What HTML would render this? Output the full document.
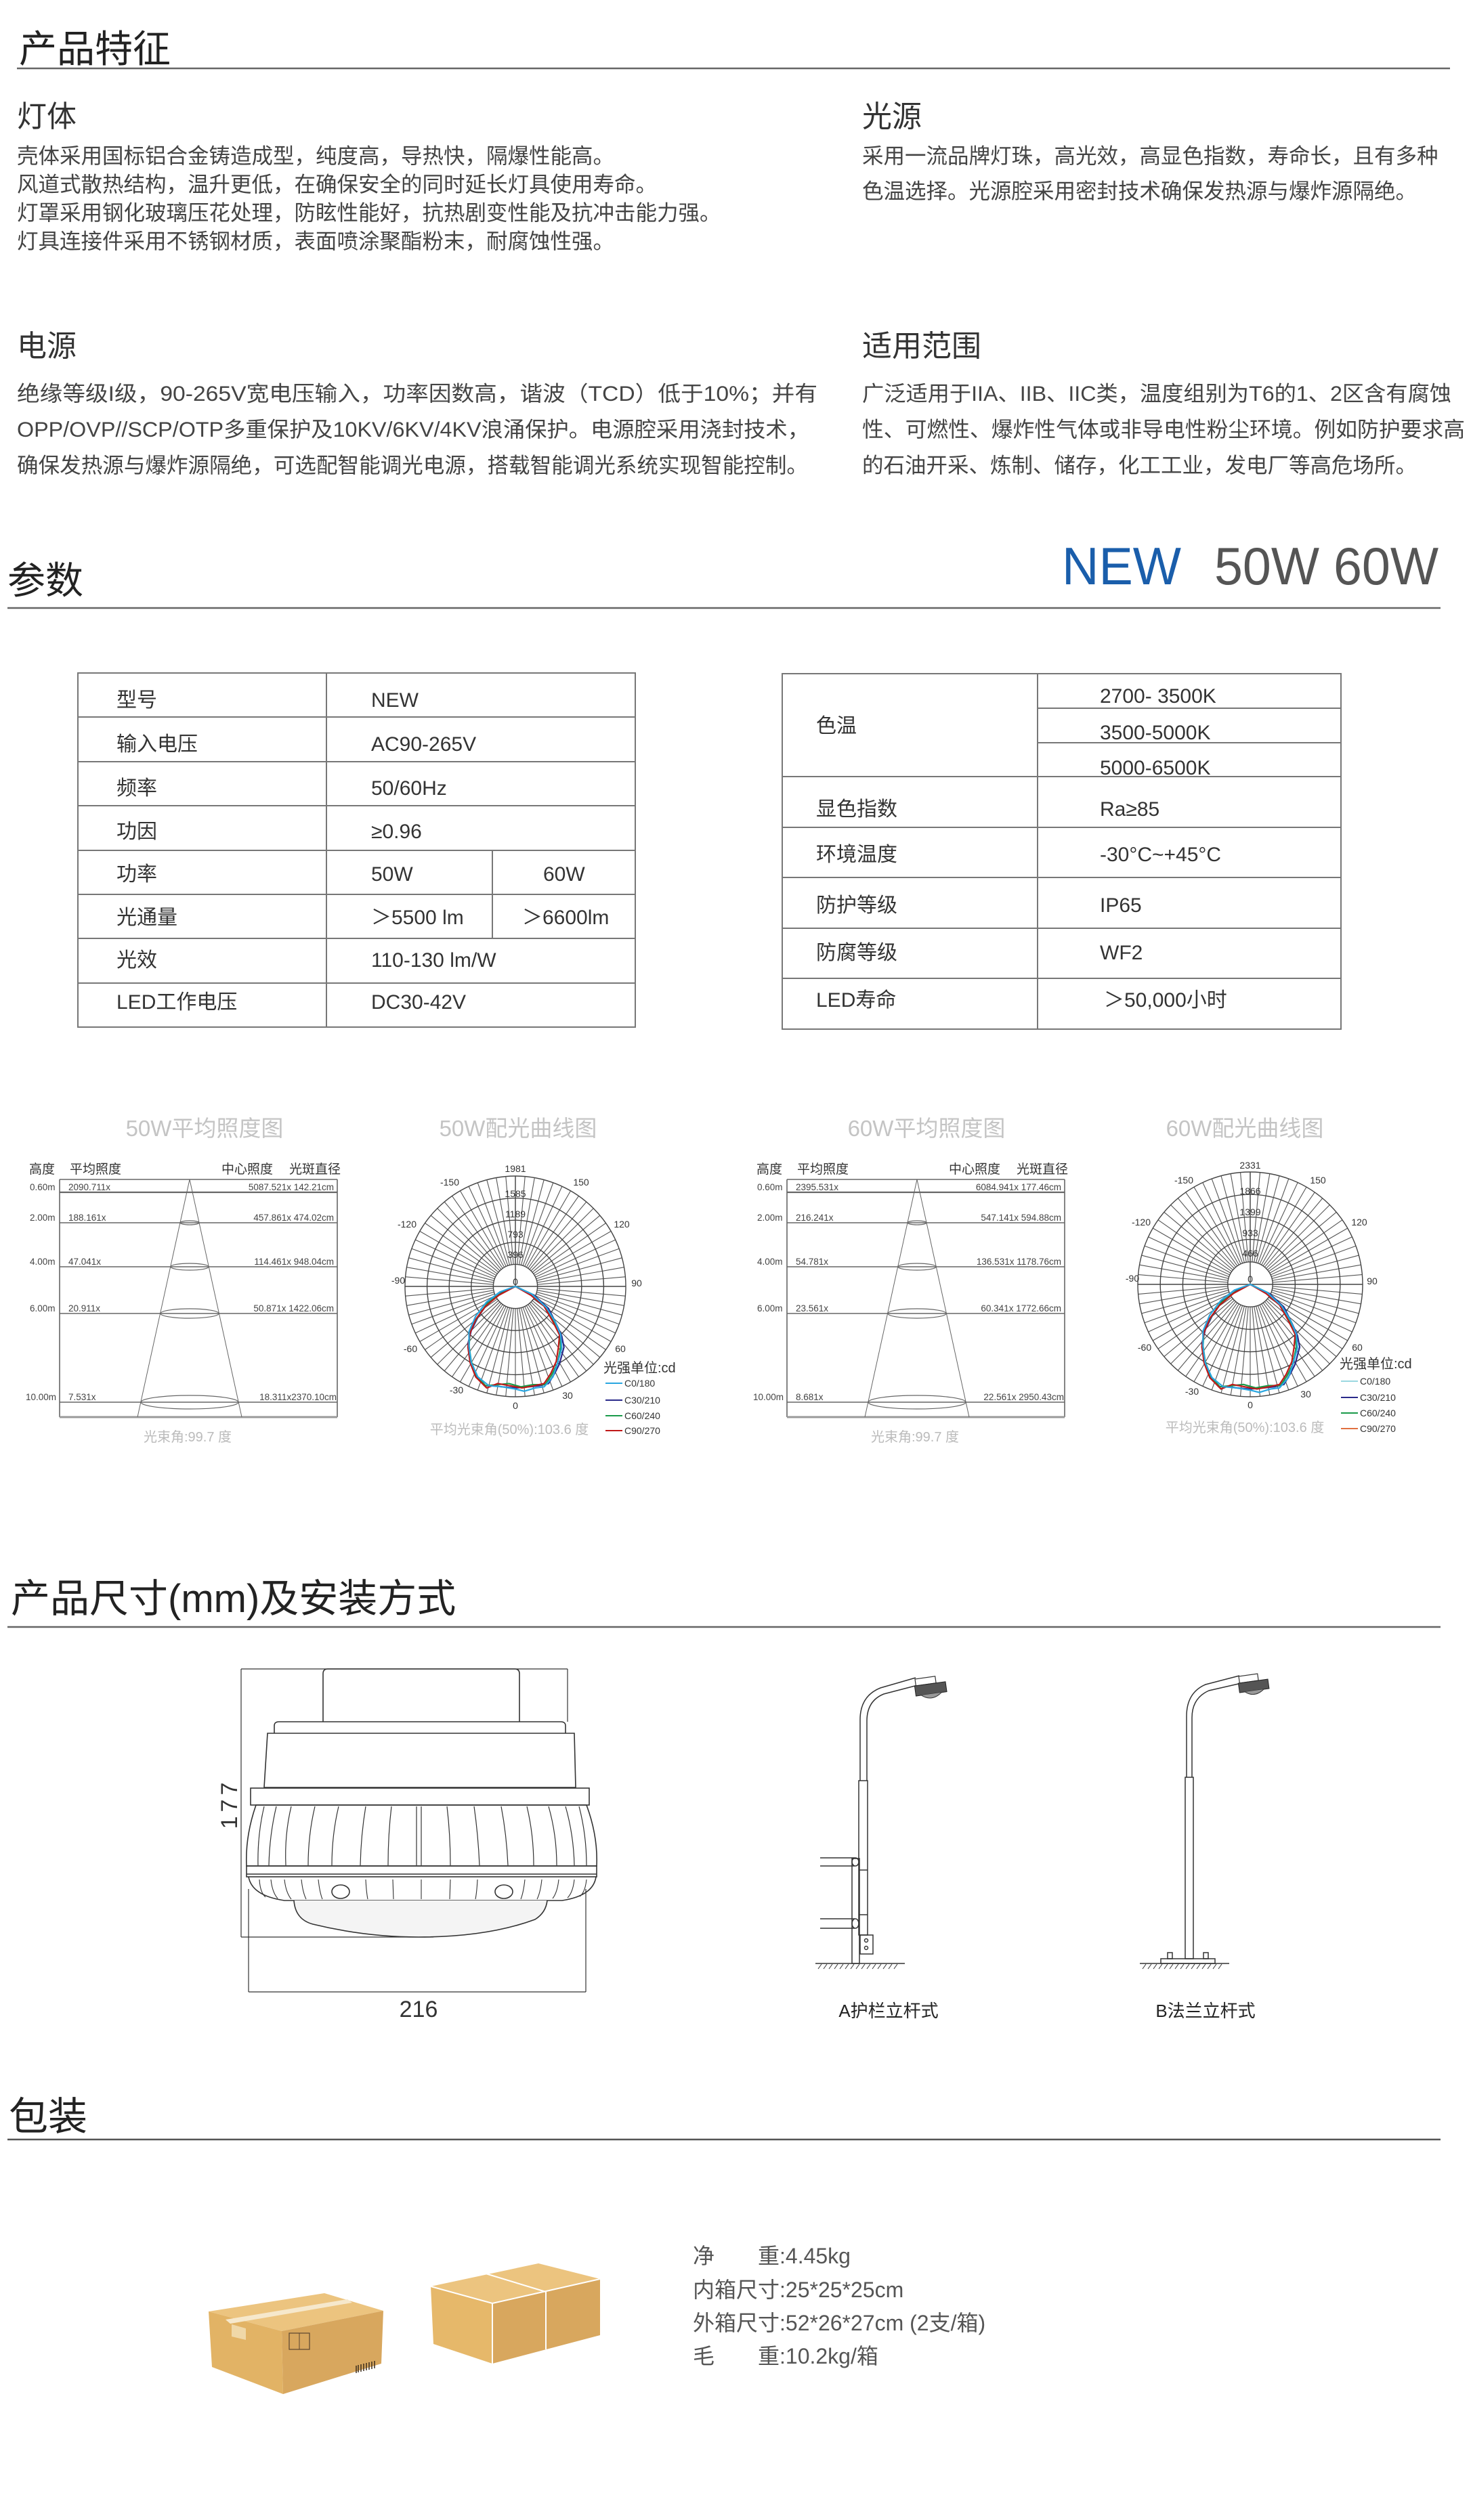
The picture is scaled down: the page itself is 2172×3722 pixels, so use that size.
<!DOCTYPE html>
<html><head><meta charset="utf-8">
<style>
html,body{margin:0;padding:0;background:#fff;}
body{width:2172px;height:3722px;position:relative;overflow:hidden;}
svg{position:absolute;left:0;top:0;}
text{font-family:"Liberation Sans","Noto Sans CJK SC",sans-serif;}
.m{font-family:"Liberation Mono","DejaVu Sans Mono",monospace;}
</style></head>
<body>
<svg width="2172" height="3722" viewBox="0 0 2172 3722" xmlns="http://www.w3.org/2000/svg" xmlns:xlink="http://www.w3.org/1999/xlink">
<defs>
<g id="sp" stroke="#555" stroke-width="1.1">
<line x1="0.2" y1="0" x2="1" y2="0" vector-effect="non-scaling-stroke"/>
<line x1="0.19924" y1="0.01744" x2="0.9962" y2="0.0872" vector-effect="non-scaling-stroke"/>
<line x1="0.19696" y1="0.03472" x2="0.9848" y2="0.1736" vector-effect="non-scaling-stroke"/>
<line x1="0.19318" y1="0.05176" x2="0.9659" y2="0.2588" vector-effect="non-scaling-stroke"/>
<line x1="0.18794" y1="0.0684" x2="0.9397" y2="0.342" vector-effect="non-scaling-stroke"/>
<line x1="0.18126" y1="0.08452" x2="0.9063" y2="0.4226" vector-effect="non-scaling-stroke"/>
<line x1="0.1732" y1="0.1" x2="0.866" y2="0.5" vector-effect="non-scaling-stroke"/>
<line x1="0.16384" y1="0.11472" x2="0.8192" y2="0.5736" vector-effect="non-scaling-stroke"/>
<line x1="0.1532" y1="0.12856" x2="0.766" y2="0.6428" vector-effect="non-scaling-stroke"/>
</g>
<g id="polar">
<use xlink:href="#sp"/><use xlink:href="#sp" transform="rotate(45)"/><use xlink:href="#sp" transform="rotate(90)"/><use xlink:href="#sp" transform="rotate(135)"/>
<use xlink:href="#sp" transform="rotate(180)"/><use xlink:href="#sp" transform="rotate(225)"/><use xlink:href="#sp" transform="rotate(270)"/><use xlink:href="#sp" transform="rotate(315)"/>
<g fill="none" stroke="#444" stroke-width="1.4">
<circle r="0.2" vector-effect="non-scaling-stroke"/><circle r="0.4" vector-effect="non-scaling-stroke"/><circle r="0.6" vector-effect="non-scaling-stroke"/><circle r="0.8" vector-effect="non-scaling-stroke"/><circle r="1" vector-effect="non-scaling-stroke"/>
<line x1="-1" y1="0" x2="1" y2="0" vector-effect="non-scaling-stroke"/>
<line x1="0" y1="0" x2="0" y2="-1" vector-effect="non-scaling-stroke"/>
</g>
</g>
<g id="curves" fill="none" stroke-width="2.2" stroke-linejoin="round">
<path stroke="#2a2a8a" vector-effect="non-scaling-stroke" d="M0,0 L-0.13,0.06 L-0.25,0.15 L-0.34,0.28 L-0.40,0.40 L-0.43,0.52 L-0.41,0.67 L-0.36,0.80 L-0.28,0.90 L-0.20,0.90 L-0.12,0.91 L0,0.92 L0.12,0.91 L0.22,0.90 L0.30,0.88 L0.36,0.78 L0.40,0.70 L0.44,0.55 L0.42,0.45 L0.37,0.34 L0.30,0.20 L0.17,0.08 Z"/>
<path stroke="#1a9a4a" vector-effect="non-scaling-stroke" d="M0,0 L-0.14,0.07 L-0.26,0.16 L-0.35,0.29 L-0.41,0.40 L-0.42,0.54 L-0.40,0.68 L-0.35,0.81 L-0.27,0.90 L-0.16,0.89 L-0.06,0.88 L0.05,0.91 L0.16,0.89 L0.27,0.89 L0.33,0.80 L0.38,0.70 L0.41,0.55 L0.40,0.44 L0.35,0.32 L0.28,0.19 L0.15,0.07 Z"/>
<path stroke="#c01818" vector-effect="non-scaling-stroke" d="M0,0 L-0.15,0.08 L-0.27,0.18 L-0.36,0.30 L-0.41,0.42 L-0.43,0.55 L-0.41,0.69 L-0.36,0.82 L-0.26,0.92 L-0.16,0.88 L-0.05,0.90 L0.06,0.92 L0.17,0.90 L0.26,0.88 L0.32,0.79 L0.37,0.68 L0.39,0.55 L0.40,0.44 L0.34,0.32 L0.26,0.18 L0.14,0.08 Z"/>
<path stroke="#29a6e0" vector-effect="non-scaling-stroke" d="M0,0 L-0.14,0.05 L-0.26,0.14 L-0.36,0.27 L-0.42,0.41 L-0.42,0.55 L-0.40,0.69 L-0.34,0.82 L-0.24,0.90 L-0.12,0.91 L0,0.93 L0.08,0.95 L0.18,0.92 L0.26,0.91 L0.34,0.82 L0.38,0.70 L0.42,0.56 L0.41,0.44 L0.36,0.32 L0.28,0.19 L0.15,0.07 Z"/>
</g>
</defs>

<!-- ===== Section 1 ===== -->
<text x="28" y="92" font-size="56" fill="#222">产品特征</text>
<line x1="25" y1="101" x2="2141" y2="101" stroke="#666" stroke-width="2.5"/>
<text x="25" y="187" font-size="44" fill="#333">灯体</text>
<text x="1273" y="187" font-size="44" fill="#333">光源</text>
<g font-size="31.5" fill="#444">
<text x="25" y="241">壳体采用国标铝合金铸造成型，纯度高，导热快，隔爆性能高。</text>
<text x="25" y="283">风道式散热结构，温升更低，在确保安全的同时延长灯具使用寿命。</text>
<text x="25" y="325">灯罩采用钢化玻璃压花处理，防眩性能好，抗热剧变性能及抗冲击能力强。</text>
<text x="25" y="367">灯具连接件采用不锈钢材质，表面喷涂聚酯粉末，耐腐蚀性强。</text>
<text x="1273" y="241">采用一流品牌灯珠，高光效，高显色指数，寿命长，且有多种</text>
<text x="1273" y="293">色温选择。光源腔采用密封技术确保发热源与爆炸源隔绝。</text>
</g>
<text x="25" y="526" font-size="44" fill="#333">电源</text>
<text x="1273" y="526" font-size="44" fill="#333">适用范围</text>
<g font-size="31.5" fill="#444">
<text x="25" y="592" textLength="1182" lengthAdjust="spacingAndGlyphs">绝缘等级I级，90-265V宽电压输入，功率因数高，谐波（TCD）低于10%；并有</text>
<text x="25" y="645" textLength="1170" lengthAdjust="spacingAndGlyphs">OPP/OVP//SCP/OTP多重保护及10KV/6KV/4KV浪涌保护。电源腔采用浇封技术，</text>
<text x="25" y="698" textLength="1168" lengthAdjust="spacingAndGlyphs">确保发热源与爆炸源隔绝，可选配智能调光电源，搭载智能调光系统实现智能控制。</text>
<text x="1273" y="592" textLength="870" lengthAdjust="spacingAndGlyphs">广泛适用于IIA、IIB、IIC类，温度组别为T6的1、2区含有腐蚀</text>
<text x="1273" y="645" textLength="890" lengthAdjust="spacingAndGlyphs">性、可燃性、爆炸性气体或非导电性粉尘环境。例如防护要求高</text>
<text x="1273" y="698">的石油开采、炼制、储存，化工工业，发电厂等高危场所。</text>
</g>

<!-- ===== Section 2 ===== -->
<text x="11" y="877" font-size="56" fill="#222">参数</text>
<text x="1568" y="863" font-size="78" fill="#1a5eab" textLength="176" lengthAdjust="spacingAndGlyphs">NEW</text>
<text x="1793" y="863" font-size="78" fill="#555" textLength="331" lengthAdjust="spacingAndGlyphs">50W 60W</text>
<line x1="11" y1="898" x2="2127" y2="898" stroke="#666" stroke-width="2.5"/>

<g stroke="#777" stroke-width="2" fill="none">
<rect x="115" y="994" width="823" height="523"/>
<line x1="482" y1="994" x2="482" y2="1517"/>
<line x1="727" y1="1256" x2="727" y2="1386"/>
<line x1="115" y1="1059" x2="938" y2="1059"/><line x1="115" y1="1125" x2="938" y2="1125"/>
<line x1="115" y1="1190" x2="938" y2="1190"/><line x1="115" y1="1256" x2="938" y2="1256"/>
<line x1="115" y1="1321" x2="938" y2="1321"/><line x1="115" y1="1386" x2="938" y2="1386"/>
<line x1="115" y1="1452" x2="938" y2="1452"/>
<rect x="1155" y="995" width="825" height="525"/>
<line x1="1532" y1="995" x2="1532" y2="1520"/>
<line x1="1532" y1="1046" x2="1980" y2="1046"/><line x1="1532" y1="1097" x2="1980" y2="1097"/>
<line x1="1155" y1="1147" x2="1980" y2="1147"/><line x1="1155" y1="1222" x2="1980" y2="1222"/>
<line x1="1155" y1="1296" x2="1980" y2="1296"/><line x1="1155" y1="1371" x2="1980" y2="1371"/>
<line x1="1155" y1="1445" x2="1980" y2="1445"/>
</g>
<g font-size="30" fill="#333">
<text x="172" y="1044">型号</text><text x="548" y="1044">NEW</text>
<text x="172" y="1109">输入电压</text><text x="548" y="1109">AC90-265V</text>
<text x="172" y="1174">频率</text><text x="548" y="1174">50/60Hz</text>
<text x="172" y="1238">功因</text><text x="548" y="1238">≥0.96</text>
<text x="172" y="1301">功率</text><text x="548" y="1301">50W</text><text x="802" y="1301">60W</text>
<text x="172" y="1365">光通量</text><text x="548" y="1365">＞5500 lm</text><text x="771" y="1365">＞6600lm</text>
<text x="172" y="1428">光效</text><text x="548" y="1428">110-130 lm/W</text>
<text x="172" y="1490">LED工作电压</text><text x="548" y="1490">DC30-42V</text>
<text x="1205" y="1082">色温</text>
<text x="1624" y="1038">2700- 3500K</text>
<text x="1624" y="1092">3500-5000K</text>
<text x="1624" y="1144">5000-6500K</text>
<text x="1205" y="1205">显色指数</text><text x="1624" y="1205">Ra≥85</text>
<text x="1205" y="1272">环境温度</text><text x="1624" y="1272">-30°C~+45°C</text>
<text x="1205" y="1347">防护等级</text><text x="1624" y="1347">IP65</text>
<text x="1205" y="1417">防腐等级</text><text x="1624" y="1417">WF2</text>
<text x="1205" y="1487">LED寿命</text><text x="1630" y="1487">＞50,000小时</text>
</g>

<!-- ===== Section 3: charts ===== -->
<g font-size="33" fill="#c4c4c4" text-anchor="middle">
<text x="302" y="1678">50W平均照度图</text>
<text x="765" y="1678">50W配光曲线图</text>
<text x="1368" y="1678">60W平均照度图</text>
<text x="1838" y="1678">60W配光曲线图</text>
</g>

<!-- illuminance chart 1 -->
<g id="ill1">
<g fill="none" stroke="#666" stroke-width="1.6">
<line x1="88" y1="1742" x2="88" y2="2093"/>
<line x1="498" y1="1742" x2="498" y2="2093"/>
<line x1="88" y1="1742" x2="498" y2="1742"/>
<line x1="88" y1="2093" x2="498" y2="2093" stroke="#999" stroke-width="3"/>
<line x1="88" y1="1761" x2="498" y2="1761" stroke-width="2.2"/>
<line x1="88" y1="1806" x2="498" y2="1806"/>
<line x1="88" y1="1871" x2="498" y2="1871"/>
<line x1="88" y1="1940" x2="498" y2="1940"/>
<line x1="88" y1="2071" x2="498" y2="2071"/>
<line x1="280" y1="1742" x2="203" y2="2093" stroke-width="1"/>
<line x1="280" y1="1742" x2="357" y2="2093" stroke-width="1"/>
<ellipse cx="280" cy="1806" rx="14" ry="3" stroke-width="1.2"/>
<ellipse cx="280" cy="1871" rx="28" ry="5" stroke-width="1.2"/>
<ellipse cx="280" cy="1940" rx="43" ry="7" stroke-width="1.2"/>
<ellipse cx="280" cy="2071" rx="72" ry="10" stroke-width="1.2"/>
</g>
<g font-size="19" fill="#333">
<text x="43" y="1733">高度</text><text x="103" y="1733">平均照度</text>
<text x="327" y="1733">中心照度</text><text x="427" y="1733">光斑直径</text>
</g>
</g>
<g class="m" font-size="13.5" fill="#444">
<text x="44" y="1758">0.60m</text><text x="101" y="1758">2090.711x</text><text x="493" y="1758" text-anchor="end">5087.521x 142.21cm</text>
<text x="44" y="1803">2.00m</text><text x="101" y="1803">188.161x</text><text x="493" y="1803" text-anchor="end">457.861x 474.02cm</text>
<text x="44" y="1868">4.00m</text><text x="101" y="1868">47.041x</text><text x="493" y="1868" text-anchor="end">114.461x 948.04cm</text>
<text x="44" y="1937">6.00m</text><text x="101" y="1937">20.911x</text><text x="493" y="1937" text-anchor="end">50.871x 1422.06cm</text>
<text x="38" y="2068">10.00m</text><text x="101" y="2068">7.531x</text><text x="497" y="2068" text-anchor="end">18.311x2370.10cm</text>
</g>
<text x="277" y="2129" font-size="20" fill="#bbb" text-anchor="middle">光束角:99.7 度</text>

<!-- illuminance chart 2 -->
<use xlink:href="#ill1" transform="translate(1074,0)"/>
<g class="m" font-size="13.5" fill="#444">
<text x="1118" y="1758">0.60m</text><text x="1175" y="1758">2395.531x</text><text x="1567" y="1758" text-anchor="end">6084.941x 177.46cm</text>
<text x="1118" y="1803">2.00m</text><text x="1175" y="1803">216.241x</text><text x="1567" y="1803" text-anchor="end">547.141x 594.88cm</text>
<text x="1118" y="1868">4.00m</text><text x="1175" y="1868">54.781x</text><text x="1567" y="1868" text-anchor="end">136.531x 1178.76cm</text>
<text x="1118" y="1937">6.00m</text><text x="1175" y="1937">23.561x</text><text x="1567" y="1937" text-anchor="end">60.341x 1772.66cm</text>
<text x="1112" y="2068">10.00m</text><text x="1175" y="2068">8.681x</text><text x="1571" y="2068" text-anchor="end">22.561x 2950.43cm</text>
</g>
<text x="1351" y="2129" font-size="20" fill="#bbb" text-anchor="middle">光束角:99.7 度</text>

<!-- polar 1 -->
<use xlink:href="#polar" transform="translate(761,1900) scale(163)"/>
<use xlink:href="#curves" transform="translate(761,1900) scale(163)"/>
<g class="m" font-size="14" fill="#333" text-anchor="middle">
<text x="761" y="1731">1981</text><text x="761" y="1768">1585</text><text x="761" y="1798">1189</text>
<text x="761" y="1828">793</text><text x="761" y="1858">396</text><text x="761" y="1898">0</text>
<text x="664" y="1751">-150</text><text x="858" y="1751">150</text>
<text x="601" y="1813">-120</text><text x="918" y="1813">120</text>
<text x="588" y="1896">-90</text><text x="940" y="1900">90</text>
<text x="606" y="1997">-60</text><text x="916" y="1997">60</text>
<text x="674" y="2058">-30</text><text x="838" y="2066">30</text>
<text x="761" y="2081">0</text>
</g>
<text x="891" y="2027" font-size="20" fill="#333">光强单位:cd</text>
<g stroke-width="2"><line x1="894" y1="2043" x2="919" y2="2043" stroke="#29a6e0"/><line x1="894" y1="2068" x2="919" y2="2068" stroke="#2a2a8a"/><line x1="894" y1="2091" x2="919" y2="2091" stroke="#1a9a4a"/><line x1="894" y1="2113" x2="919" y2="2113" stroke="#c01818"/></g>
<g class="m" font-size="14" fill="#333"><text x="922" y="2048">C0/180</text><text x="922" y="2073">C30/210</text><text x="922" y="2096">C60/240</text><text x="922" y="2118">C90/270</text></g>
<text x="752" y="2118" font-size="20" fill="#bbb" text-anchor="middle">平均光束角(50%):103.6 度</text>

<!-- polar 2 -->
<use xlink:href="#polar" transform="translate(1846,1897) scale(166)"/>
<use xlink:href="#curves" transform="translate(1846,1897) scale(166,168)"/>
<g class="m" font-size="14" fill="#333" text-anchor="middle">
<text x="1846" y="1726">2331</text><text x="1846" y="1764">1866</text><text x="1846" y="1795">1399</text>
<text x="1846" y="1826">933</text><text x="1846" y="1856">466</text><text x="1846" y="1894">0</text>
<text x="1748" y="1748">-150</text><text x="1946" y="1748">150</text>
<text x="1685" y="1810">-120</text><text x="2007" y="1810">120</text>
<text x="1672" y="1893">-90</text><text x="2026" y="1897">90</text>
<text x="1690" y="1995">-60</text><text x="2004" y="1995">60</text>
<text x="1760" y="2060">-30</text><text x="1928" y="2064">30</text>
<text x="1846" y="2080">0</text>
</g>
<text x="1978" y="2021" font-size="20" fill="#333">光强单位:cd</text>
<g stroke-width="2"><line x1="1980" y1="2040" x2="2005" y2="2040" stroke="#9ad8e0"/><line x1="1980" y1="2064" x2="2005" y2="2064" stroke="#2a2a8a"/><line x1="1980" y1="2087" x2="2005" y2="2087" stroke="#1a9a4a"/><line x1="1980" y1="2110" x2="2005" y2="2110" stroke="#e07040"/></g>
<g class="m" font-size="14" fill="#333"><text x="2008" y="2045">C0/180</text><text x="2008" y="2069">C30/210</text><text x="2008" y="2092">C60/240</text><text x="2008" y="2115">C90/270</text></g>
<text x="1838" y="2115" font-size="20" fill="#bbb" text-anchor="middle">平均光束角(50%):103.6 度</text>

<!-- ===== Section 4 ===== -->
<text x="16" y="2381" font-size="58" fill="#222">产品尺寸(mm)及安装方式</text>
<line x1="11" y1="2403" x2="2127" y2="2403" stroke="#666" stroke-width="2.5"/>

<g fill="none" stroke="#333" stroke-width="1.6">
<!-- dim box -->
<line x1="356" y1="2465" x2="356" y2="2861" stroke-width="1.2"/>
<line x1="356" y1="2465" x2="838" y2="2465" stroke-width="1.2"/>
<line x1="838" y1="2465" x2="838" y2="2543" stroke-width="1.2"/>
<line x1="356" y1="2861" x2="640" y2="2861" stroke-width="1.2"/>
<line x1="367" y1="2790" x2="367" y2="2942" stroke-width="1.2"/>
<line x1="865" y1="2790" x2="865" y2="2942" stroke-width="1.2"/>
<line x1="367" y1="2942" x2="865" y2="2942" stroke-width="1.2"/>
<!-- cap -->
<path d="M477,2543 L477,2472 Q477,2465 484,2465 L760,2465 Q767,2465 767,2472 L767,2543"/>
<path d="M405,2560 L405,2549 Q405,2543 412,2543 L828,2543 Q835,2543 835,2549 L835,2560"/>
<path d="M395,2560 L848,2560 L850,2640 L390,2640 Z"/>
<rect x="370" y="2641" width="500" height="25"/>
<!-- fins -->
<path d="M378,2666 Q362,2712 364,2756 L881,2756 Q883,2712 866,2666 Z"/>
<g stroke-width="1.2">
<path d="M390,2668 Q380,2710 381,2755"/><path d="M408,2668 Q398,2710 397,2755"/><path d="M430,2668 Q420,2710 422,2755"/>
<path d="M465,2668 Q455,2710 455,2755"/><path d="M500,2668 Q490,2710 490,2755"/><path d="M540,2668 Q533,2710 532,2755"/>
<path d="M578,2668 Q573,2710 573,2755"/><path d="M615,2668 L615,2755"/><path d="M622,2668 L622,2755"/>
<path d="M660,2668 Q665,2710 665,2755"/><path d="M700,2668 Q706,2710 708,2755"/><path d="M740,2668 Q748,2710 750,2755"/>
<path d="M778,2668 Q788,2710 788,2755"/><path d="M810,2668 Q822,2710 822,2755"/><path d="M835,2668 Q847,2710 848,2755"/><path d="M855,2668 Q866,2710 866,2755"/>
</g>
<rect x="364" y="2756" width="517" height="16"/>
<line x1="364" y1="2768" x2="881" y2="2768"/>
<path d="M367,2772 Q372,2800 420,2807 L830,2807 Q876,2800 880,2772"/>
<g stroke-width="1.1">
<path d="M383,2776 Q384,2795 392,2802"/><path d="M400,2776 Q402,2795 410,2804"/><path d="M420,2776 Q422,2795 430,2805"/><path d="M445,2776 Q447,2795 452,2805"/>
<path d="M470,2776 Q472,2795 476,2805"/><path d="M540,2776 Q541,2795 543,2805"/><path d="M580,2776 L581,2805"/><path d="M622,2776 L622,2805"/>
<path d="M665,2776 L664,2805"/><path d="M705,2776 Q704,2795 702,2805"/><path d="M775,2776 Q773,2795 769,2805"/><path d="M800,2776 Q798,2795 793,2805"/>
<path d="M825,2776 Q823,2795 816,2804"/><path d="M848,2776 Q846,2795 838,2803"/><path d="M866,2776 Q864,2795 856,2801"/>
</g>
<ellipse cx="503" cy="2794" rx="13" ry="10"/>
<ellipse cx="744" cy="2794" rx="13" ry="10"/>
<path d="M434,2807 Q436,2835 462,2842 Q540,2861 618,2861 Q720,2861 790,2835 Q806,2825 808,2807" fill="#f4f4f4"/>
</g>
<text x="618" y="2979" font-size="34" fill="#333" text-anchor="middle">216</text>
<text transform="translate(350,2664) rotate(-90)" font-size="34" fill="#333" text-anchor="middle" letter-spacing="6">177</text>

<!-- Pole A -->
<g fill="none" stroke="#333" stroke-width="1.5">
<path d="M1270,2630 L1270,2540 Q1270,2505 1300,2493 L1352,2478"/>
<path d="M1280,2630 L1280,2542 Q1280,2512 1305,2502 L1355,2489"/>
<rect x="1268" y="2630" width="13" height="228"/>
<rect x="1270" y="2858" width="19" height="28"/>
<circle cx="1279" cy="2866" r="2.5"/><circle cx="1279" cy="2877" r="2.5"/>
<rect x="1258" y="2745" width="11" height="155"/>
<path d="M1211,2744 L1262,2744 M1211,2756 L1262,2756"/><ellipse cx="1263" cy="2750" rx="5" ry="6"/>
<path d="M1211,2834 L1262,2834 M1211,2848 L1262,2848"/><ellipse cx="1263" cy="2841" rx="5" ry="7"/>
<line x1="1268" y1="2762" x2="1281" y2="2762"/><line x1="1268" y1="2828" x2="1281" y2="2828"/>
<line x1="1204" y1="2900" x2="1336" y2="2900"/>
</g>
<path d="M1208,2908 l5,-7 M1216,2908 l5,-7 M1224,2908 l5,-7 M1232,2908 l5,-7 M1240,2908 l5,-7 M1248,2908 l5,-7 M1256,2908 l5,-7 M1264,2908 l5,-7 M1272,2908 l5,-7 M1280,2908 l5,-7 M1288,2908 l5,-7 M1296,2908 l5,-7 M1304,2908 l5,-7 M1312,2908 l5,-7 M1320,2908 l5,-7" stroke="#333" stroke-width="1"/>
<g transform="translate(1351,2480) rotate(-8)">
<rect x="0" y="0" width="30" height="10" fill="#fff" stroke="#333" stroke-width="1.2"/>
<rect x="-2" y="10" width="46" height="15" fill="#555" stroke="#222"/>
<path d="M6,25 Q20,37 36,25" fill="#999" stroke="#333"/>
</g>
<text x="1312" y="2979" font-size="26" fill="#222" text-anchor="middle">A护栏立杆式</text>

<!-- Pole B -->
<g fill="none" stroke="#333" stroke-width="1.5">
<path d="M1752,2625 L1752,2535 Q1752,2500 1780,2488 L1830,2475"/>
<path d="M1760,2625 L1760,2537 Q1760,2508 1785,2497 L1833,2486"/>
<rect x="1750" y="2625" width="12" height="268"/>
<rect x="1714" y="2893" width="80" height="7"/>
<rect x="1724" y="2884" width="7" height="9"/><rect x="1777" y="2884" width="7" height="9"/>
<line x1="1683" y1="2900" x2="1815" y2="2900"/>
</g>
<path d="M1687,2908 l5,-7 M1695,2908 l5,-7 M1703,2908 l5,-7 M1711,2908 l5,-7 M1719,2908 l5,-7 M1727,2908 l5,-7 M1735,2908 l5,-7 M1743,2908 l5,-7 M1751,2908 l5,-7 M1759,2908 l5,-7 M1767,2908 l5,-7 M1775,2908 l5,-7 M1783,2908 l5,-7 M1791,2908 l5,-7 M1799,2908 l5,-7" stroke="#333" stroke-width="1"/>
<g transform="translate(1829,2476) rotate(-8)">
<rect x="0" y="0" width="28" height="10" fill="#fff" stroke="#333" stroke-width="1.2"/>
<rect x="-2" y="10" width="44" height="14" fill="#555" stroke="#222"/>
<path d="M6,24 Q19,35 34,24" fill="#999" stroke="#333"/>
</g>
<text x="1780" y="2979" font-size="26" fill="#222" text-anchor="middle">B法兰立杆式</text>

<!-- ===== Section 5 ===== -->
<text x="13" y="3146" font-size="58" fill="#222">包装</text>
<line x1="11" y1="3160" x2="2127" y2="3160" stroke="#555" stroke-width="2.5"/>

<!-- box 1 -->
<polygon points="308,3414 479,3387 566,3413 416,3443" fill="#ecc47f"/>
<polygon points="308,3414 416,3443 418,3536 313,3496" fill="#e2b365"/>
<polygon points="416,3443 566,3413 563,3491 418,3536" fill="#d8a75e"/>
<polygon points="333,3426 513,3396 520,3401 340,3432" fill="#f6e8cc"/>
<polygon points="342,3433 363,3439 363,3456 342,3451" fill="#f0d8a8"/>
<rect x="427" y="3446" width="30" height="24" fill="none" stroke="#5a4630" stroke-width="1.2"/>
<line x1="442" y1="3446" x2="442" y2="3470" stroke="#5a4630"/>
<g stroke="#3a2a1a" stroke-width="1.5"><line x1="526" y1="3494" x2="526" y2="3505"/><line x1="529" y1="3493" x2="529" y2="3504"/><line x1="533" y1="3492" x2="533" y2="3503"/><line x1="537" y1="3491" x2="537" y2="3502"/><line x1="541" y1="3490" x2="541" y2="3501"/><line x1="545" y1="3489" x2="545" y2="3500"/><line x1="549" y1="3488" x2="549" y2="3499"/><line x1="553" y1="3487" x2="553" y2="3498"/></g>

<!-- box 2 -->
<polygon points="636,3377 795,3343 886,3366 727,3402" fill="#ecc47f"/>
<polygon points="636,3377 727,3402 727,3491 640,3462" fill="#e6b86a"/>
<polygon points="727,3402 886,3366 886,3449 727,3491" fill="#d8a75e"/>
<polyline points="636,3377 727,3402 886,3366" fill="none" stroke="#fff" stroke-width="2"/>
<line x1="727" y1="3402" x2="727" y2="3491" stroke="#fff" stroke-width="2"/>
<polyline points="717,3358 806,3385 806,3470" fill="none" stroke="#fff" stroke-width="2"/>

<g font-size="32" fill="#555">
<text x="1023" y="3343">净</text><text x="1119" y="3343">重:4.45kg</text>
<text x="1023" y="3393">内箱尺寸:25*25*25cm</text>
<text x="1023" y="3442">外箱尺寸:52*26*27cm (2支/箱)</text>
<text x="1023" y="3491">毛</text><text x="1119" y="3491">重:10.2kg/箱</text>
</g>
</svg>
</body></html>
